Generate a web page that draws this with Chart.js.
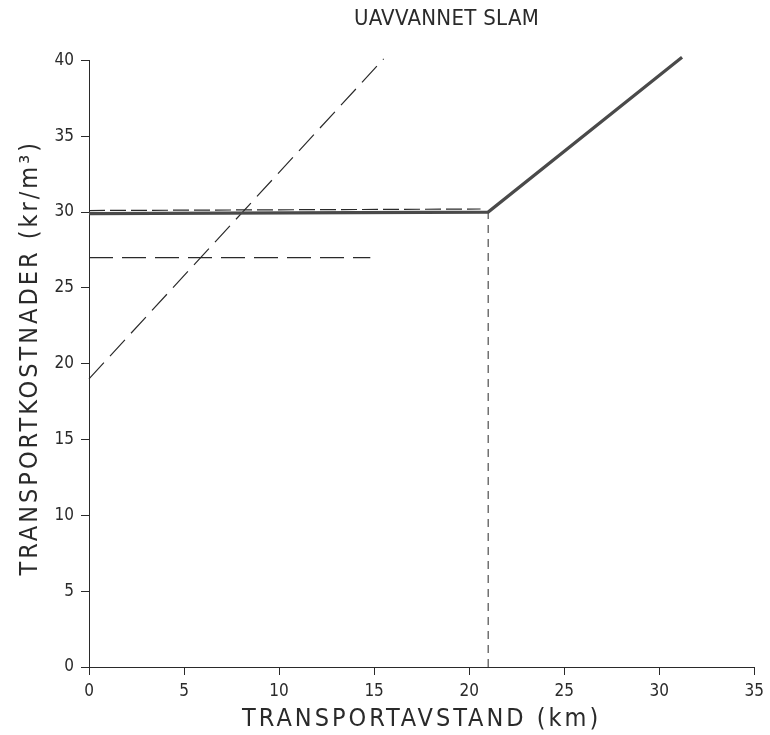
<!DOCTYPE html>
<html>
<head>
<meta charset="utf-8">
<script src="https://cdn.jsdelivr.net/npm/chart.js@4/dist/chart.umd.min.js"></script>
<style>
  html, body { margin: 0; padding: 0; background: #fff; }
  #wrap { width: 770px; height: 735px; }
</style>
</head>
<body>
<div id="wrap"><canvas id="slamChart"></canvas></div>
<script>
  // Data (km, kr/m3)
  const mainLine = [{x: 0, y: 29.9}, {x: 21, y: 30}, {x: 31.2, y: 40.2}];
  const overlayDash = [{x: 0, y: 30.1}, {x: 20.6, y: 30.2}];
  const steepDash = [{x: 0, y: 19}, {x: 15.5, y: 40.1}];
  const flatDash = [{x: 0, y: 27}, {x: 14.8, y: 27}];
  const dropLine = [{x: 21, y: 0}, {x: 21, y: 30}];
  const xTicks = [0, 5, 10, 15, 20, 25, 30, 35];
  const yTicks = [0, 5, 10, 15, 20, 25, 30, 35, 40];

  const ink = '#2a2a2a';

  // the printed original uses spaced-out capitals for its axis titles
  const baseDrawTitle = Chart.Scale.prototype.drawTitle;
  Chart.Scale.prototype.drawTitle = function() {
    this.ctx.save();
    this.ctx.letterSpacing = '3px';
    if (this.axis === 'y') this.ctx.translate(0, -6);
    baseDrawTitle.call(this);
    this.ctx.restore();
  };
  // main title sits right of centre in the original
  const TitleEl = Chart.Title._element;
  const baseTitleDraw = TitleEl.prototype.draw;
  TitleEl.prototype.draw = function() {
    this.ctx.save();
    this.ctx.letterSpacing = '0.3px';
    this.ctx.translate(69, 0);
    baseTitleDraw.call(this);
    this.ctx.restore();
  };

  function lineSet(data, width, dash, color) {
    return {
      data: data,
      showLine: true,
      borderColor: color,
      borderWidth: width,
      borderDash: dash,
      pointRadius: 0,
      fill: false,
      tension: 0,
      clip: false
    };
  }

  // Chart
  const ctx = document.getElementById('slamChart').getContext('2d');
  const slamChart = new Chart(ctx, {
    type: 'scatter',
    data: {
      datasets: [
        lineSet(mainLine, 3.2, [], '#4a4a4a'),
        lineSet(overlayDash, 1.2, [16, 5], ink),
        lineSet(steepDash, 1.2, [22, 9], ink),
        lineSet(flatDash, 1.2, [24, 9], ink),
        lineSet(dropLine, 1, [8, 6], ink)
      ]
    },
    options: {
      responsive: true,
      maintainAspectRatio: false,
      animation: false,
      layout: { padding: { left: 0, right: 15, top: 0, bottom: 0 } },
      plugins: {
        legend: { display: false },
        tooltip: { enabled: false },
        title: {
          display: true,
          text: 'UAVVANNET SLAM',
          color: ink,
          font: { family: 'DejaVu Sans Condensed', size: 22, weight: 'normal' },
          padding: { top: 6, bottom: 28 }
        }
      },
      scales: {
        x: {
          type: 'linear',
          min: 0,
          max: 35,
          afterFit: function(scale) { scale.height = 68; },
          afterBuildTicks: function(scale) { scale.ticks = xTicks.map(v => ({value: v})); },
          border: { display: true, color: ink, width: 1 },
          grid: { drawOnChartArea: false, drawTicks: true, tickLength: 8, color: ink },
          ticks: {
            color: ink,
            padding: 6,
            font: { family: 'DejaVu Sans Condensed', size: 17 }
          },
          title: {
            display: true,
            text: 'TRANSPORTAVSTAND (km)',
            color: ink,
            font: { family: 'DejaVu Sans Condensed', size: 25 },
            padding: { top: 0, bottom: 1 }
          }
        },
        y: {
          type: 'linear',
          min: 0,
          max: 40,
          afterFit: function(scale) { scale.width = 89; },
          afterBuildTicks: function(scale) { scale.ticks = yTicks.map(v => ({value: v})); },
          border: { display: true, color: ink, width: 1 },
          grid: { drawOnChartArea: false, drawTicks: true, tickLength: 8, color: ink },
          ticks: {
            color: ink,
            padding: 7,
            font: { family: 'DejaVu Sans Condensed', size: 17 }
          },
          title: {
            display: true,
            text: 'TRANSPORTKOSTNADER (kr/m\u00B3)',
            color: ink,
            font: { family: 'DejaVu Sans Condensed', size: 25 },
            padding: { top: 15, bottom: 0 }
          }
        }
      }
    }
  });
</script>
</body>
</html>
